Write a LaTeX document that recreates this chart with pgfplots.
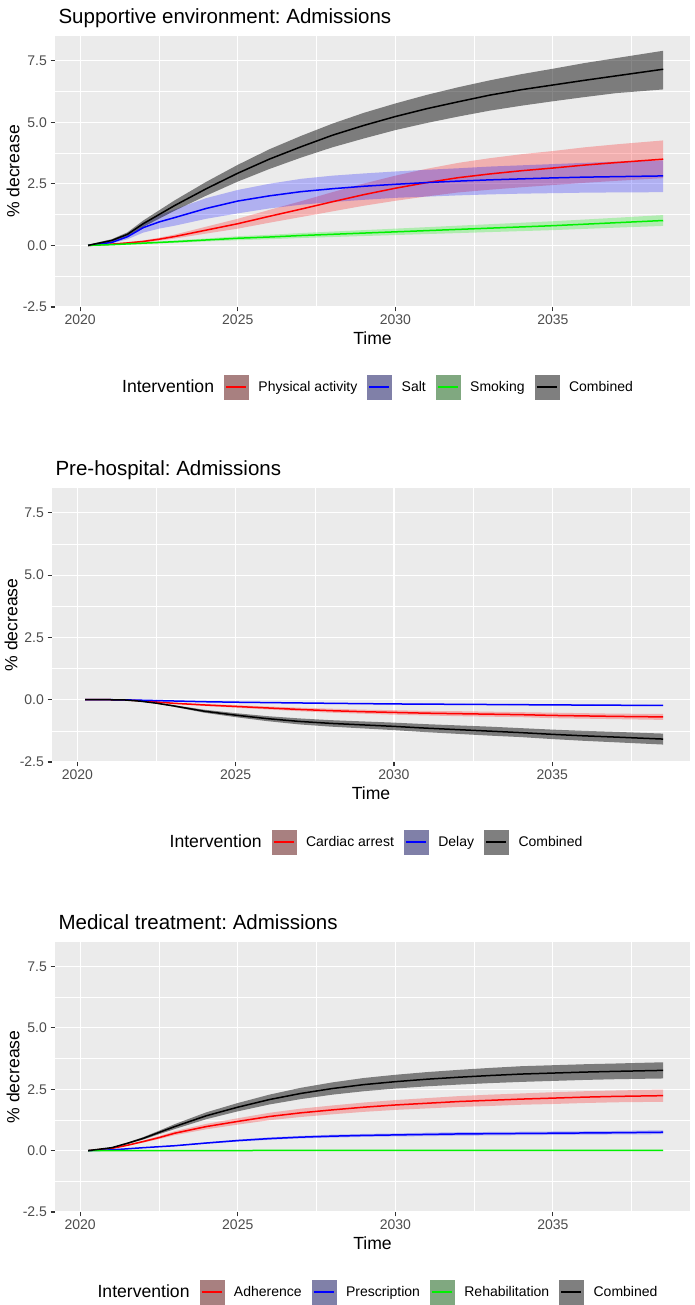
\documentclass[border=0pt]{standalone}
\usepackage{fontspec}
\setmainfont{Liberation Sans}
\usepackage{pgfplots}
\usepackage{pgfplotstable}
\pgfplotsset{compat=1.18}
\usepgfplotslibrary{fillbetween}
\definecolor{ggbg}{HTML}{EBEBEB}
\definecolor{ggtick}{HTML}{333333}
\definecolor{ggtext}{HTML}{4D4D4D}
\definecolor{kred}{HTML}{A88080}
\definecolor{kblue}{HTML}{8080A8}
\definecolor{kgreen}{HTML}{80A880}
\definecolor{kgrey}{HTML}{7F7F7F}
\definecolor{lgreen}{HTML}{00F000}

% Supportive environment
\pgfplotstableread{
x y lo hi
2020.25 0 0 0
2021 0.05 0.03 0.07
2021.5 0.1 0.07 0.13
2022 0.16 0.12 0.2
2022.5 0.25 0.19 0.31
2023 0.36 0.28 0.44
2024 0.62 0.48 0.76
2025 0.88 0.68 1.08
2026 1.18 0.92 1.44
2027 1.47 1.15 1.79
2028 1.77 1.38 2.16
2029 2.06 1.61 2.51
2030 2.32 1.81 2.83
2031 2.55 1.99 3.11
2032 2.75 2.15 3.35
2033 2.9 2.26 3.54
2034 3.03 2.36 3.7
2035 3.14 2.45 3.83
2036 3.26 2.54 3.98
2037 3.36 2.62 4.1
2038.5 3.5 2.73 4.26
}\seA
\pgfplotstableread{
x y lo hi
2020.25 0 0 0
2021 0.12 0.08 0.16
2021.5 0.35 0.25 0.45
2022 0.72 0.52 0.92
2022.5 0.95 0.68 1.22
2023 1.13 0.8 1.46
2024 1.5 1.08 1.92
2025 1.8 1.3 2.25
2026 2.01 1.5 2.5
2027 2.18 1.65 2.7
2028 2.3 1.76 2.83
2029 2.4 1.85 2.92
2030 2.48 1.93 3.0
2031 2.55 1.98 3.07
2032 2.61 2.03 3.13
2033 2.66 2.07 3.2
2034 2.7 2.1 3.25
2035 2.74 2.12 3.3
2036 2.77 2.14 3.35
2037 2.79 2.15 3.4
2038.5 2.82 2.16 3.45
}\seB
\pgfplotstableread{
x y lo hi
2020.25 0 -0.01 0.01
2021 0.03 0.0 0.06
2022 0.09 0.05 0.13
2023 0.15 0.1 0.2
2024 0.22 0.16 0.28
2025 0.29 0.21 0.37
2026 0.34 0.25 0.43
2027 0.4 0.3 0.5
2028 0.45 0.34 0.56
2029 0.5 0.38 0.62
2030 0.55 0.42 0.68
2031 0.6 0.46 0.74
2032 0.65 0.5 0.8
2033 0.7 0.54 0.86
2034 0.75 0.58 0.92
2035 0.8 0.62 0.98
2036 0.86 0.67 1.05
2037 0.92 0.72 1.12
2038.5 1.01 0.79 1.23
}\seC
\pgfplotstableread{
x y lo hi
2020.25 0 -0.03 0.03
2021 0.2 0.15 0.25
2021.5 0.45 0.37 0.53
2022 0.88 0.75 1.01
2022.5 1.25 1.08 1.42
2023 1.62 1.41 1.83
2024 2.3 2.02 2.58
2025 2.93 2.59 3.27
2026 3.5 3.1 3.9
2027 4.0 3.56 4.44
2028 4.47 3.98 4.94
2029 4.87 4.34 5.38
2030 5.23 4.68 5.76
2031 5.55 4.97 6.11
2032 5.83 5.23 6.42
2033 6.1 5.47 6.7
2034 6.32 5.67 6.95
2035 6.51 5.85 7.17
2036 6.7 6.02 7.4
2037 6.88 6.18 7.6
2038.5 7.15 6.33 7.9
}\seD

% Pre-hospital
\pgfplotstableread{
x y lo hi
2020.25 0 0 0
2021 0 0 0
2021.5 -0.01 -0.01 -0.01
2022 -0.04 -0.05 -0.03
2022.5 -0.09 -0.11 -0.07
2023 -0.14 -0.16 -0.12
2024 -0.21 -0.25 -0.17
2025 -0.27 -0.32 -0.22
2026 -0.33 -0.39 -0.27
2027 -0.39 -0.46 -0.32
2028 -0.44 -0.52 -0.36
2029 -0.48 -0.56 -0.4
2030 -0.51 -0.6 -0.42
2031 -0.54 -0.63 -0.45
2032 -0.56 -0.66 -0.46
2033 -0.58 -0.68 -0.48
2034 -0.6 -0.7 -0.5
2035 -0.63 -0.74 -0.52
2036 -0.65 -0.76 -0.54
2037 -0.67 -0.78 -0.56
2038.5 -0.69 -0.81 -0.57
}\phA
\pgfplotstableread{
x y lo hi
2020.25 0 0 0
2021 0 0 0
2021.5 -0.005 -0.01 0
2022 -0.02 -0.03 -0.01
2023 -0.05 -0.06 -0.04
2024 -0.08 -0.095 -0.065
2025 -0.1 -0.115 -0.085
2026 -0.115 -0.13 -0.1
2027 -0.13 -0.145 -0.115
2028 -0.145 -0.16 -0.13
2030 -0.17 -0.185 -0.155
2032 -0.185 -0.2 -0.17
2034 -0.2 -0.215 -0.185
2036 -0.215 -0.23 -0.2
2038.5 -0.23 -0.245 -0.215
}\phB
\pgfplotstableread{
x y lo hi
2020.25 0 0 0
2021 0 0 0
2021.5 -0.01 -0.01 -0.01
2022 -0.06 -0.07 -0.05
2022.5 -0.14 -0.16 -0.12
2023 -0.24 -0.27 -0.21
2024 -0.46 -0.52 -0.4
2025 -0.62 -0.7 -0.54
2026 -0.76 -0.86 -0.66
2027 -0.87 -0.99 -0.75
2028 -0.95 -1.08 -0.82
2029 -1.01 -1.15 -0.87
2030 -1.07 -1.22 -0.92
2031 -1.14 -1.3 -0.98
2032 -1.2 -1.37 -1.03
2033 -1.26 -1.44 -1.08
2034 -1.32 -1.5 -1.14
2035 -1.39 -1.58 -1.2
2036 -1.45 -1.65 -1.25
2037 -1.5 -1.71 -1.29
2038.5 -1.58 -1.8 -1.36
}\phC

% Medical treatment
\pgfplotstableread{
x y lo hi
2020.25 0 0 0
2021 0.09 0.08 0.1
2021.5 0.22 0.2 0.24
2022 0.37 0.33 0.41
2022.5 0.53 0.47 0.59
2023 0.71 0.63 0.79
2024 0.98 0.87 1.09
2025 1.19 1.06 1.32
2026 1.39 1.24 1.54
2027 1.54 1.37 1.71
2028 1.66 1.48 1.84
2029 1.77 1.58 1.96
2030 1.86 1.66 2.06
2031 1.93 1.72 2.14
2032 2.0 1.78 2.22
2033 2.05 1.82 2.28
2034 2.1 1.87 2.33
2035 2.14 1.9 2.38
2036 2.18 1.94 2.42
2037 2.21 1.97 2.45
2038.5 2.24 1.99 2.49
}\mtA
\pgfplotstableread{
x y lo hi
2020.25 0 0 0
2021 0.03 0.027 0.033
2022 0.12 0.11 0.13
2023 0.2 0.18 0.22
2024 0.31 0.28 0.34
2025 0.41 0.37 0.45
2026 0.49 0.44 0.54
2027 0.55 0.5 0.6
2028 0.59 0.53 0.65
2029 0.62 0.56 0.68
2030 0.64 0.58 0.7
2031 0.66 0.59 0.73
2032 0.68 0.61 0.75
2033 0.69 0.62 0.76
2034 0.7 0.63 0.77
2035 0.71 0.64 0.78
2036 0.72 0.65 0.79
2037 0.73 0.66 0.8
2038.5 0.75 0.67 0.83
}\mtB
\pgfplotstableread{
x y lo hi
2020.25 0 0 0
2025 0.005 0 0.01
2030 0.01 0 0.02
2038.5 0.01 0 0.02
}\mtC
\pgfplotstableread{
x y lo hi
2020.25 0 0 0
2021 0.12 0.11 0.13
2021.5 0.3 0.27 0.33
2022 0.5 0.45 0.55
2022.5 0.74 0.67 0.81
2023 0.98 0.88 1.08
2024 1.42 1.28 1.56
2025 1.77 1.6 1.94
2026 2.08 1.88 2.28
2027 2.33 2.1 2.56
2028 2.53 2.28 2.78
2029 2.69 2.42 2.96
2030 2.81 2.53 3.09
2031 2.91 2.62 3.2
2032 2.99 2.69 3.29
2033 3.06 2.75 3.37
2034 3.12 2.8 3.44
2035 3.16 2.84 3.48
2036 3.2 2.88 3.52
2037 3.23 2.91 3.55
2038.5 3.27 2.94 3.6
}\mtD

\pgfplotsset{
  gg/.style={
    scale only axis,
    xmin=2019.2, xmax=2039.35, ymin=-2.5, ymax=8.5,
    axis background/.style={fill=ggbg},
    axis x line*=bottom, axis y line*=left,
    axis line style={draw=none},
    xtick={2020,2025,2030,2035}, xticklabels={2020,2025,2030,2035},
    ytick={-2.5,0,2.5,5,7.5}, yticklabels={-2.5,0.0,2.5,5.0,7.5},
    minor xtick={2022.5,2027.5,2032.5,2037.5},
    minor ytick={-1.25,1.25,3.75,6.25},
    grid=both,
    major grid style={white, line width=1.1pt},
    minor grid style={white, line width=0.55pt},
    tick align=outside, major tick length=4.4pt, minor tick length=0pt,
    major tick style={ggtick, line width=1.1pt},
    minor tick style={draw=none},
    tick label style={font=\fontsize{14}{16}\selectfont, text=ggtext, inner sep=0pt},
    xticklabel style={yshift=-3.5pt},
    yticklabel style={xshift=-3.5pt},
    title style={at={(0,1)}, anchor=base west, yshift=6pt, font=\fontsize{20.5}{24}\selectfont},
    xlabel={Time},
    ylabel={\% decrease},
    label style={font=\fontsize{17.6}{20}\selectfont, text=black},
    xlabel style={at={(axis description cs:0.5,0)}, anchor=center, yshift=-31pt},
    ylabel style={at={(axis description cs:-0.066,0.5)}, anchor=center},
    legend style={draw=none, fill=none, at={(0.5,0)}, anchor=center, yshift=-80pt,
      font=\fontsize{14}{16}\selectfont, nodes={inner sep=0pt},
      /tikz/every even column/.append style={column sep=10pt},
      /tikz/every odd column/.append style={column sep=10pt}},
    legend columns=-1,
    legend cell align=left,
  },
  ggkey/.style 2 args={legend image code/.code={
      \fill[#1] (0pt,-12pt) rectangle (24pt,12pt);
      \draw[#2, line width=1.5pt] (2pt,0pt) -- (22pt,0pt);}},
  bandfill/.style={draw=none, fill=#1, fill opacity=0.25, forget plot},
  ln/.style={#1, line width=1.5pt, forget plot},
}

\begin{document}
\frenchspacing
\begin{tikzpicture}

% ---------- Panel 1 ----------
\begin{axis}[gg, at={(55pt,998pt)}, anchor=south west, width=635pt, height=271pt,
  title={Supportive environment: Admissions}]
\addplot[name path=aU, draw=none, forget plot] table[x=x,y=hi]{\seA};
\addplot[name path=aL, draw=none, forget plot] table[x=x,y=lo]{\seA};
\addplot[bandfill=red] fill between[of=aU and aL];
\addplot[name path=bU, draw=none, forget plot] table[x=x,y=hi]{\seB};
\addplot[name path=bL, draw=none, forget plot] table[x=x,y=lo]{\seB};
\addplot[bandfill=blue] fill between[of=bU and bL];
\addplot[name path=cU, draw=none, forget plot] table[x=x,y=hi]{\seC};
\addplot[name path=cL, draw=none, forget plot] table[x=x,y=lo]{\seC};
\addplot[bandfill=lgreen] fill between[of=cU and cL];
\addplot[name path=dU, draw=none, forget plot] table[x=x,y=hi]{\seD};
\addplot[name path=dL, draw=none, forget plot] table[x=x,y=lo]{\seD};
\addplot[draw=none, fill=black, fill opacity=0.47, forget plot] fill between[of=dU and dL];
\addplot[ln=red] table[x=x,y=y]{\seA};
\addplot[ln=blue] table[x=x,y=y]{\seB};
\addplot[ln=lgreen] table[x=x,y=y]{\seC};
\addplot[ln=black] table[x=x,y=y]{\seD};
\addlegendimage{empty legend}
\addlegendentry{\fontsize{17.6}{20}\selectfont Intervention}
\addlegendimage{ggkey={kred}{red}}
\addlegendentry{Physical activity}
\addlegendimage{ggkey={kblue}{blue}}
\addlegendentry{Salt}
\addlegendimage{ggkey={kgreen}{lgreen}}
\addlegendentry{Smoking}
\addlegendimage{ggkey={kgrey}{black}}
\addlegendentry{Combined}
\end{axis}

% ---------- Panel 2 ----------
\begin{axis}[gg, at={(52pt,543pt)}, anchor=south west, width=638pt, height=274pt,
  title={Pre-hospital: Admissions},
  ylabel style={at={(axis description cs:-0.064,0.5)}}]
\addplot[name path=aU, draw=none, forget plot] table[x=x,y=hi]{\phA};
\addplot[name path=aL, draw=none, forget plot] table[x=x,y=lo]{\phA};
\addplot[bandfill=red] fill between[of=aU and aL];
\addplot[name path=bU, draw=none, forget plot] table[x=x,y=hi]{\phB};
\addplot[name path=bL, draw=none, forget plot] table[x=x,y=lo]{\phB};
\addplot[bandfill=blue] fill between[of=bU and bL];
\addplot[name path=dU, draw=none, forget plot] table[x=x,y=hi]{\phC};
\addplot[name path=dL, draw=none, forget plot] table[x=x,y=lo]{\phC};
\addplot[draw=none, fill=black, fill opacity=0.47, forget plot] fill between[of=dU and dL];
\addplot[ln=red] table[x=x,y=y]{\phA};
\addplot[ln=blue] table[x=x,y=y]{\phB};
\addplot[ln=black] table[x=x,y=y]{\phC};
\addlegendimage{empty legend}
\addlegendentry{\fontsize{17.6}{20}\selectfont Intervention}
\addlegendimage{ggkey={kred}{red}}
\addlegendentry{Cardiac arrest}
\addlegendimage{ggkey={kblue}{blue}}
\addlegendentry{Delay}
\addlegendimage{ggkey={kgrey}{black}}
\addlegendentry{Combined}
\end{axis}

% ---------- Panel 3 ----------
\begin{axis}[gg, at={(55pt,93pt)}, anchor=south west, width=635pt, height=270pt,
  title={Medical treatment: Admissions}]
\addplot[name path=aU, draw=none, forget plot] table[x=x,y=hi]{\mtA};
\addplot[name path=aL, draw=none, forget plot] table[x=x,y=lo]{\mtA};
\addplot[bandfill=red] fill between[of=aU and aL];
\addplot[name path=bU, draw=none, forget plot] table[x=x,y=hi]{\mtB};
\addplot[name path=bL, draw=none, forget plot] table[x=x,y=lo]{\mtB};
\addplot[bandfill=blue] fill between[of=bU and bL];
\addplot[name path=cU, draw=none, forget plot] table[x=x,y=hi]{\mtC};
\addplot[name path=cL, draw=none, forget plot] table[x=x,y=lo]{\mtC};
\addplot[bandfill=lgreen] fill between[of=cU and cL];
\addplot[name path=dU, draw=none, forget plot] table[x=x,y=hi]{\mtD};
\addplot[name path=dL, draw=none, forget plot] table[x=x,y=lo]{\mtD};
\addplot[draw=none, fill=black, fill opacity=0.47, forget plot] fill between[of=dU and dL];
\addplot[ln=red] table[x=x,y=y]{\mtA};
\addplot[ln=blue] table[x=x,y=y]{\mtB};
\addplot[ln=lgreen] table[x=x,y=y]{\mtC};
\addplot[ln=black] table[x=x,y=y]{\mtD};
\addlegendimage{empty legend}
\addlegendentry{\fontsize{17.6}{20}\selectfont Intervention}
\addlegendimage{ggkey={kred}{red}}
\addlegendentry{Adherence}
\addlegendimage{ggkey={kblue}{blue}}
\addlegendentry{Prescription}
\addlegendimage{ggkey={kgreen}{lgreen}}
\addlegendentry{Rehabilitation}
\addlegendimage{ggkey={kgrey}{black}}
\addlegendentry{Combined}
\end{axis}

\pgfresetboundingbox
\path[use as bounding box] (0pt,0pt) rectangle (695pt,1305pt);
\end{tikzpicture}
\end{document}
